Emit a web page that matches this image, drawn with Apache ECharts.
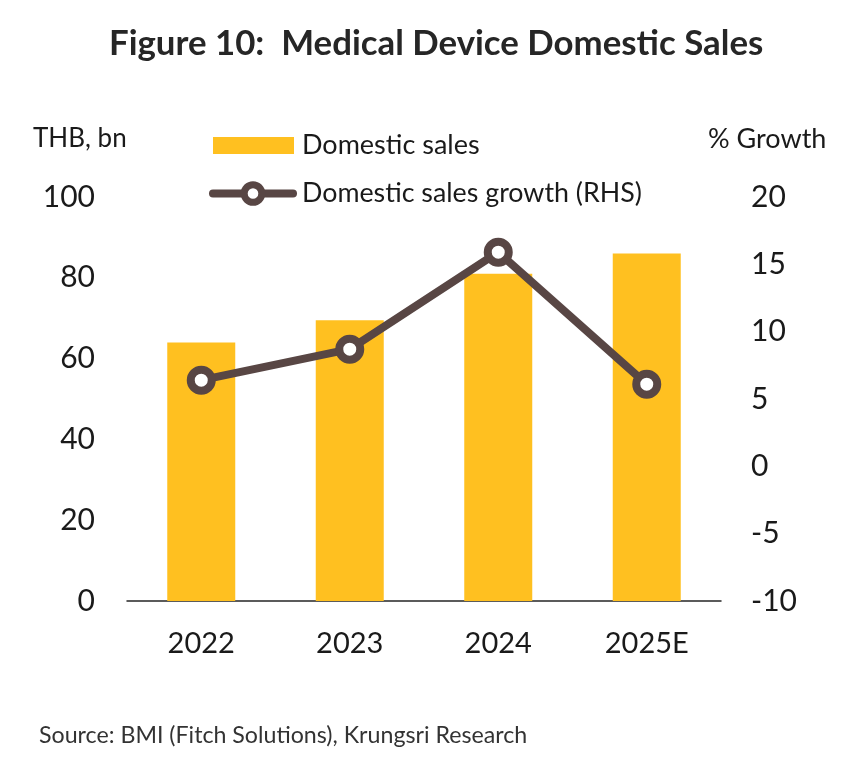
<!DOCTYPE html>
<html lang="en">
<head>
<meta charset="UTF-8">
<title>Medical Device Domestic Sales</title>
<style>
    * { padding: 0; margin: 0; }
    #myChart { width: 850px; height: 781px; }
</style>
</head>
<body>
<div id="myChart"></div>
<script src="https://cdn.jsdelivr.net/npm/echarts@6/dist/echarts.min.js"></script>
<script>
    const categories = ["2022", "2023", "2024", "2025E"];
    const domesticSales = [64, 69.5, 81, 86];
    const salesGrowth = [6.4, 8.7, 15.9, 6.1];
    const leftTicks = [0, 20, 40, 60, 80, 100];
    const rightTicks = [-10, -5, 0, 5, 10, 15, 20];

    const FONT = 'Lato, "Open Sans", sans-serif';
    const BROWN = '#584644';
    const myChart = echarts.init(document.getElementById('myChart'));
    myChart.setOption({
        backgroundColor: '#ffffff',
        animation: false,
        textStyle: { fontFamily: FONT },
        title: [
            { text: 'Figure 10:  Medical Device Domestic Sales', left: 104, top: 21,
              textStyle: { fontSize: 34.8, fontWeight: 'bold', color: '#262626', fontFamily: FONT } },
            { text: 'THB, bn', left: 28, top: 121, textStyle: { fontSize: 26, fontWeight: 'normal', color: '#1a1a1a' } },
            { text: '% Growth', left: 703, top: 121, textStyle: { fontSize: 27, fontWeight: 'normal', color: '#1a1a1a' } },
            { text: 'Source: BMI (Fitch Solutions), Krungsri Research', left: 34, top: 719,
              textStyle: { fontSize: 23.2, fontWeight: 'normal', color: '#333333' } }
        ],
        legend: [
            { left: 208, top: 127, itemWidth: 81, itemHeight: 17, itemGap: 0,
              icon: 'rect', data: ['Domestic sales'],
              textStyle: { fontSize: 27, color: '#1a1a1a', padding: [0, 0, 0, 3] } },
            { left: 204, top: 175, itemWidth: 80, itemHeight: 22, itemGap: 0,
              data: ['Domestic sales growth (RHS)'],
              lineStyle: { width: 8, cap: 'round' },
              itemStyle: { borderWidth: 7 },
              textStyle: { fontSize: 26.8, color: '#1a1a1a', padding: [0, 0, 0, 4] } }
        ],
        grid: { left: 127, right: 129, top: 197, bottom: 180 },
        xAxis: {
            type: 'category', data: categories,
            axisLine: { lineStyle: { color: '#262626', width: 1.5 } },
            axisTick: { show: false },
            axisLabel: { fontSize: 29, color: '#1a1a1a', margin: 28 }
        },
        yAxis: [
            { type: 'value', min: leftTicks[0], max: leftTicks[leftTicks.length - 1], interval: 20,
              axisLine: { show: false }, axisTick: { show: false }, splitLine: { show: false },
              axisLabel: { fontSize: 30, color: '#1a1a1a', margin: 32 } },
            { type: 'value', min: rightTicks[0], max: rightTicks[rightTicks.length - 1], interval: 5,
              axisLine: { show: false }, axisTick: { show: false }, splitLine: { show: false },
              axisLabel: { fontSize: 30, color: '#1a1a1a', margin: 30 } }
        ],
        series: [
            { name: 'Domestic sales', type: 'bar', data: domesticSales, barWidth: 68,
              itemStyle: { color: '#ffc020' } },
            { name: 'Domestic sales growth (RHS)', type: 'line', yAxisIndex: 1, data: salesGrowth,
              symbol: 'circle', symbolSize: 21,
              lineStyle: { color: BROWN, width: 8 },
              itemStyle: { color: '#ffffff', borderColor: BROWN, borderWidth: 8 } }
        ]
    });
</script>
</body>
</html>
